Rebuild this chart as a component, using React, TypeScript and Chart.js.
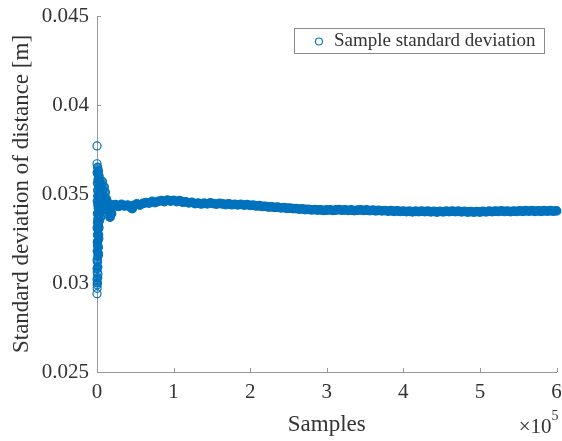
import { useEffect, useRef } from "react";
import { Chart, registerables } from "chart.js";

Chart.register(...registerables);

const SERIES_LABEL = "Sample standard deviation";
const X_TITLE = "Samples";
const Y_TITLE = "Standard deviation of distance [m]";
const X_TICKS = [0, 100000, 200000, 300000, 400000, 500000, 600000];
const Y_TICKS = [0.025, 0.03, 0.035, 0.04, 0.045];
const X_EXPONENT = "5";

// [sample index, running standard deviation (m)]
const outlierPoints: [number, number][] = [
  [0, 0.0377], [0, 0.0367], [0, 0.0294], [200, 0.0297], [250, 0.0299], [0, 0.0302],
  [300, 0.0306], [100, 0.0313], [1200, 0.0305],
];

const transientPoints: [number, number][] = [
  [300, 0.0362], [500, 0.03], [800, 0.0303], [1000, 0.0309], [600, 0.0312],
  [1200, 0.0315], [400, 0.0318], [900, 0.0321], [1500, 0.0324], [700, 0.0327], [1300, 0.033],
  [1800, 0.0333], [1100, 0.0336], [2200, 0.0339], [1600, 0.0342], [2500, 0.0345], [2000, 0.0348],
  [3000, 0.0351], [2400, 0.0354], [3500, 0.0357], [2800, 0.036], [1900, 0.0363], [4200, 0.0356],
  [5000, 0.0352], [4500, 0.0348], [6000, 0.035], [5500, 0.0345], [7000, 0.0347], [6500, 0.0342],
  [3800, 0.034], [4800, 0.0337], [3200, 0.0335], [2600, 0.0331], [2100, 0.0327], [1700, 0.032],
  [1400, 0.0317], [500, 0.0323], [200, 0.0331], [600, 0.0339], [900, 0.0352],
  [1300, 0.0358], [400, 0.0346], [150, 0.0308], [700, 0.0334], [1100, 0.0344], [7500, 0.0352],
  [8500, 0.0349], [6200, 0.0355], [5200, 0.0341], [4100, 0.0344], [3400, 0.0347], [9000, 0.0344],
  [7000, 0.0357], [9500, 0.0354], [11000, 0.0351], [800, 0.0365], [1500, 0.0361], [2300, 0.0325],
  [1900, 0.0316], [2700, 0.0338], [3300, 0.0343], [1000, 0.0349], [600, 0.0356],
];

const settlingPoints: [number, number][] = [
  [12000, 0.03472], [15000, 0.034], [16000, 0.03445], [17000, 0.0337], [19000, 0.0339],
  [20000, 0.03428], [24000, 0.0344], [28000, 0.0343], [32000, 0.03442], [36000, 0.03433],
  [40000, 0.03438], [44000, 0.03426], [46000, 0.03418], [48000, 0.03436], [52000, 0.03444],
  [56000, 0.03438], [60000, 0.03447], [64000, 0.03452], [68000, 0.03449], [72000, 0.03458],
  [76000, 0.03452], [80000, 0.03459], [84000, 0.03463], [88000, 0.03458], [92000, 0.03466],
  [96000, 0.0346], [100000, 0.03464], [104000, 0.03458], [108000, 0.03462], [112000, 0.03454],
  [116000, 0.03456], [120000, 0.0345], [124000, 0.03453], [128000, 0.03446], [132000, 0.03449],
  [136000, 0.03444], [140000, 0.03448], [144000, 0.03445], [148000, 0.0345], [152000, 0.03446],
  [156000, 0.03443], [160000, 0.03447], [164000, 0.03444], [168000, 0.03441], [172000, 0.03445],
  [176000, 0.0344], [180000, 0.03442], [184000, 0.03439], [188000, 0.03442], [192000, 0.03438],
  [196000, 0.0344], [200000, 0.03436], [204000, 0.03437], [208000, 0.03433], [212000, 0.03434],
  [216000, 0.0343], [220000, 0.03431], [224000, 0.03427], [228000, 0.03428], [232000, 0.03425],
  [236000, 0.03426], [240000, 0.03422], [244000, 0.03423], [248000, 0.0342], [252000, 0.03421],
  [256000, 0.03418], [260000, 0.03418], [264000, 0.03415], [268000, 0.03416], [272000, 0.03413],
  [276000, 0.03414], [280000, 0.03411], [284000, 0.03412], [288000, 0.0341], [292000, 0.03411],
  [296000, 0.03408],
];

const steadyPoints: [number, number][] = [
  [300000, 0.0341], [304000, 0.03411], [308000, 0.03408], [312000, 0.0341], [316000, 0.03412],
  [320000, 0.03409], [324000, 0.03411], [328000, 0.03408], [332000, 0.0341], [336000, 0.03407],
  [340000, 0.03409], [344000, 0.03411], [348000, 0.03408], [352000, 0.0341], [356000, 0.03407],
  [360000, 0.03409], [364000, 0.03406], [368000, 0.03408], [372000, 0.03405], [376000, 0.03407],
  [380000, 0.03404], [384000, 0.03406], [388000, 0.03403], [392000, 0.03405], [396000, 0.03402],
  [400000, 0.03404], [404000, 0.03401], [408000, 0.03403], [412000, 0.034], [416000, 0.03403],
  [420000, 0.03401], [424000, 0.03404], [428000, 0.03401], [432000, 0.03403], [436000, 0.034],
  [440000, 0.03402], [444000, 0.03399], [448000, 0.03402], [452000, 0.034], [456000, 0.03403],
  [460000, 0.03401], [464000, 0.03404], [468000, 0.03401], [472000, 0.03403], [476000, 0.034],
  [480000, 0.03402], [484000, 0.03399], [488000, 0.03401], [492000, 0.03398], [496000, 0.03401],
  [500000, 0.03399], [504000, 0.03402], [508000, 0.034], [512000, 0.03403], [516000, 0.03401],
  [520000, 0.03404], [524000, 0.03402], [528000, 0.03405], [532000, 0.03402], [536000, 0.03404],
  [540000, 0.03401], [544000, 0.03404], [548000, 0.03402], [552000, 0.03405], [556000, 0.03403],
  [560000, 0.03406], [564000, 0.03404], [568000, 0.03406], [572000, 0.03403], [576000, 0.03405],
  [580000, 0.03403], [584000, 0.03406], [588000, 0.03404], [592000, 0.03406], [596000, 0.03404],
  [600000, 0.03405],
];

const BLUE = "#0072BD";
const TEXT = "#333333";
const AXIS = "#999999";
const FONT = "'Liberation Serif', 'Times New Roman', serif";

const innerTicks = {
  id: "innerTicks",
  beforeDatasetsDraw(chart: any) {
    const { ctx, chartArea, scales } = chart;
    const x = scales.x;
    const y = scales.y;
    ctx.save();
    ctx.strokeStyle = AXIS;
    ctx.lineWidth = 1;
    x.ticks.forEach((t: any) => {
      const px = Math.round(x.getPixelForValue(t.value)) + 0.5;
      ctx.beginPath();
      ctx.moveTo(px, chartArea.bottom);
      ctx.lineTo(px, chartArea.bottom - 4);
      ctx.stroke();
    });
    y.ticks.forEach((t: any) => {
      const py = Math.round(y.getPixelForValue(t.value)) + 0.5;
      ctx.beginPath();
      ctx.moveTo(chartArea.left, py);
      ctx.lineTo(chartArea.left + 4, py);
      ctx.stroke();
    });
    ctx.restore();
  },
};

const boxLegend = {
  id: "boxLegend",
  afterDraw(chart: any) {
    const { ctx, chartArea } = chart;
    const label = chart.data.datasets[0].label as string;
    ctx.save();
    ctx.font = `19px ${FONT}`;
    const tw = ctx.measureText(label).width;
    const w = 40 + tw + 8;
    const h = 25;
    const right = chartArea.right - 13;
    const left = right - w;
    const top = chartArea.top + 12;
    ctx.fillStyle = "#ffffff";
    ctx.fillRect(left, top, w, h);
    ctx.strokeStyle = "#8a8a8a";
    ctx.lineWidth = 1;
    ctx.strokeRect(Math.round(left) + 0.5, Math.round(top) + 0.5, Math.round(w), h);
    ctx.strokeStyle = BLUE;
    ctx.lineWidth = 1.1;
    ctx.beginPath();
    ctx.arc(left + 25, top + h / 2 + 1, 3.5, 0, Math.PI * 2);
    ctx.stroke();
    ctx.fillStyle = TEXT;
    ctx.textBaseline = "middle";
    ctx.textAlign = "left";
    ctx.fillText(label, left + 40, top + h / 2 + 1);
    ctx.restore();
  },
};

const exponentLabel = {
  id: "exponentLabel",
  afterDraw(chart: any) {
    const { ctx, chartArea } = chart;
    ctx.save();
    ctx.fillStyle = TEXT;
    ctx.textBaseline = "middle";
    ctx.textAlign = "right";
    ctx.font = `14px ${FONT}`;
    const right = chartArea.right + 2;
    const sw = ctx.measureText(X_EXPONENT).width;
    ctx.fillText(X_EXPONENT, right, 416);
    ctx.font = `21px ${FONT}`;
    ctx.fillText("\u00d710", right - sw, 427);
    ctx.restore();
  },
};

const toXY = (pts: [number, number][]) => pts.map(([x, y]) => ({ x, y }));

export default function App() {
  const canvasRef = useRef<HTMLCanvasElement | null>(null);

  useEffect(() => {
    document.body.style.margin = "0";
    const canvas = canvasRef.current;
    if (!canvas) return;
    const common = {
      borderColor: BLUE,
      backgroundColor: "rgba(0,0,0,0)",
      pointRadius: 4,
      pointBorderColor: BLUE,
      pointBackgroundColor: "rgba(0,0,0,0)",
      clip: false as any,
    };
    const chart = new Chart(canvas, {
      type: "scatter",
      data: {
        datasets: [
          { ...common, label: SERIES_LABEL, data: toXY(outlierPoints), pointBorderWidth: 1.2 },
          {
            ...common,
            label: SERIES_LABEL,
            data: toXY(transientPoints),
            pointBorderWidth: 1.4,
            pointBackgroundColor: "rgba(0,114,189,0.75)",
          },
          {
            ...common,
            label: SERIES_LABEL,
            data: toXY([...settlingPoints, ...steadyPoints]),
            pointRadius: 4.3,
            pointBorderWidth: 1.2,
            pointBackgroundColor: BLUE,
          },
        ],
      },
      options: {
        animation: false,
        responsive: false,
        devicePixelRatio: 1,
        layout: { padding: { top: 16, right: 4, left: 0, bottom: 0 } },
        plugins: {
          legend: { display: false },
          tooltip: { enabled: false },
        },
        scales: {
          x: {
            type: "linear",
            min: 0,
            max: 600000,
            afterBuildTicks: (s: any) => {
              s.ticks = X_TICKS.map((v) => ({ value: v }));
            },
            afterFit: (s: any) => {
              s.height = 69;
              s.paddingLeft = 0;
              s.paddingRight = 0;
            },
            grid: { display: false, drawTicks: false },
            border: { display: true, color: AXIS, width: 1 },
            ticks: {
              color: TEXT,
              padding: 8,
              maxRotation: 0,
              font: { family: FONT, size: 21 },
              callback: (v: any) => String(Number(v) / 100000),
            },
            title: {
              display: true,
              text: X_TITLE,
              color: TEXT,
              font: { family: FONT, size: 23 },
              padding: { top: 0, bottom: 2 },
            },
          },
          y: {
            type: "linear",
            min: 0.025,
            max: 0.045,
            afterBuildTicks: (s: any) => {
              s.ticks = Y_TICKS.map((v) => ({ value: v }));
            },
            afterFit: (s: any) => {
              s.width = 97;
              s.paddingTop = 0;
              s.paddingBottom = 0;
            },
            grid: { display: false, drawTicks: false },
            border: { display: true, color: AXIS, width: 1 },
            ticks: {
              color: TEXT,
              padding: 8,
              font: { family: FONT, size: 21 },
              callback: (v: any) => String(Number(Number(v).toFixed(3))),
            },
            title: {
              display: true,
              text: Y_TITLE,
              color: TEXT,
              font: { family: FONT, size: 23 },
              padding: { top: 8, bottom: 0 },
            },
          },
        },
      },
      plugins: [innerTicks, boxLegend, exponentLabel],
    });
    return () => chart.destroy();
  }, []);

  return (
    <div style={{ width: 562, height: 441 }}>
      <canvas ref={canvasRef} width={562} height={441} style={{ display: "block" }} />
    </div>
  );
}
